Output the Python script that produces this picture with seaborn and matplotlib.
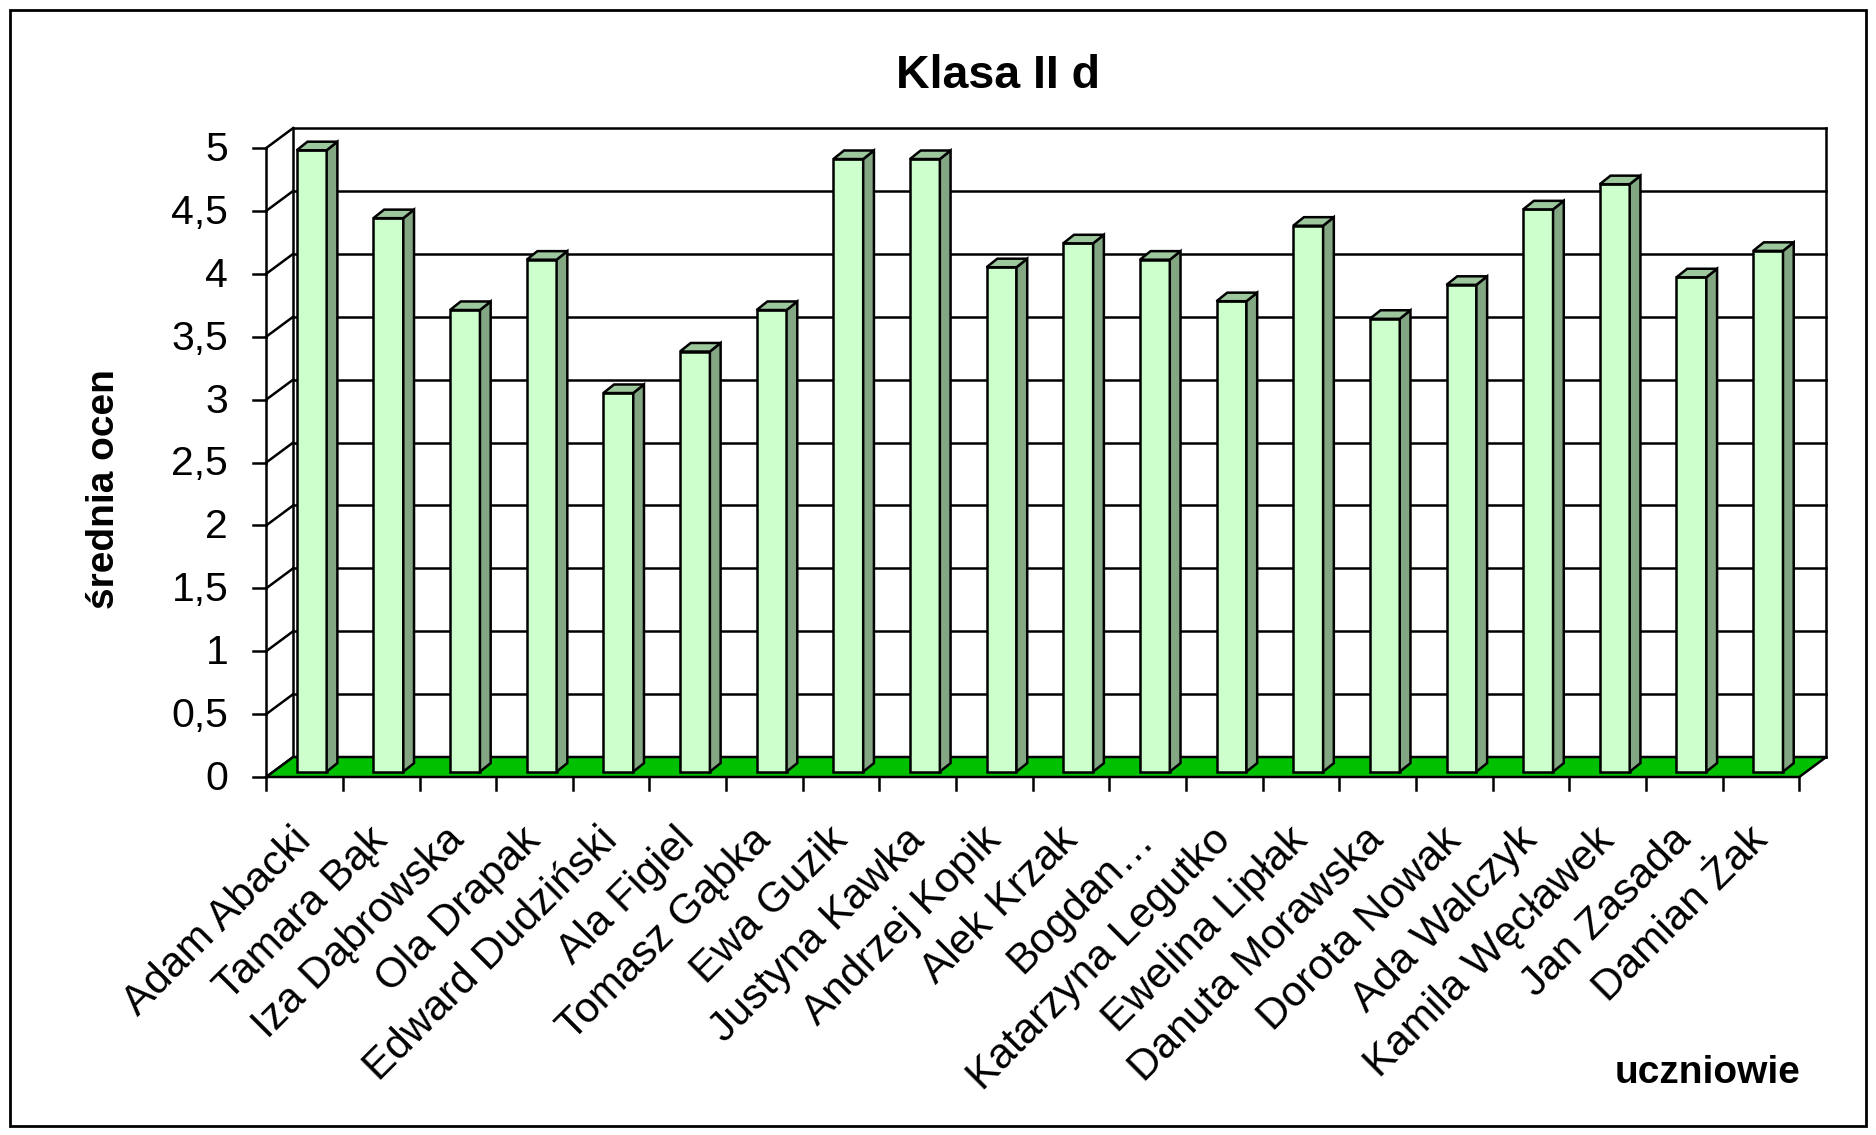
import numpy as np
import pandas as pd
import matplotlib
matplotlib.use("Agg")
import matplotlib.pyplot as plt
import seaborn as sns
from matplotlib.patches import Polygon, Rectangle

# ---- data -------------------------------------------------------------
students = [
    "Adam Abacki", "Tamara Bąk", "Iza Dąbrowska", "Ola Drapak",
    "Edward Dudziński", "Ala Figiel", "Tomasz Gąbka", "Ewa Guzik",
    "Justyna Kawka", "Andrzej Kopik", "Alek Krzak", "Bogdan…",
    "Katarzyna Legutko", "Ewelina Lipłak", "Danuta Morawska",
    "Dorota Nowak", "Ada Walczyk", "Kamila Węcławek", "Jan Zasada",
    "Damian Żak",
]
averages = [
    4.94, 4.40, 3.67, 4.07, 3.01, 3.34, 3.67, 4.87, 4.87, 4.01,
    4.20, 4.07, 3.74, 4.34, 3.60, 3.87, 4.47, 4.67, 3.93, 4.14,
]
y_ticks = [0, 0.5, 1, 1.5, 2, 2.5, 3, 3.5, 4, 4.5, 5]
y_tick_labels = ["0", "0,5", "1", "1,5", "2", "2,5", "3", "3,5", "4", "4,5", "5"]
chart_title = "Klasa II d"
y_title = "średnia ocen"
x_title = "uczniowie"

# ---- style ------------------------------------------------------------
sns.set_theme(style="white")
plt.rcParams["font.family"] = ["Liberation Sans", "DejaVu Sans"]

FRONT = "#CCFFCC"
SIDE = "#83A783"
TOP = "#9DC89D"
FLOOR = "#00C000"
INK = "black"
LW = 1.8

W, H = 1876, 1135
fig = plt.figure(figsize=(W / 100, H / 100), dpi=100)
fig.patch.set_facecolor("white")
ax = fig.add_axes([0, 0, 1, 1])

df = pd.DataFrame({"uczeń": students, "średnia": averages})
sns.barplot(data=df, x="uczeń", y="średnia", width=0.39, color=FRONT,
            saturation=1, edgecolor=INK, linewidth=LW, ax=ax, zorder=5)

# scale: one category = 76.65 px, one grade unit = 125.8 px
CAT_PX, VAL_PX = 76.65, 125.8
X0_PX, Y0_PX = 311.7, 771.7
ax.set_xlim(-X0_PX / CAT_PX, (W - X0_PX) / CAT_PX)
ax.set_ylim((Y0_PX - H) / VAL_PX, Y0_PX / VAL_PX)
ax.set_axis_off()

# oblique projection: depth t runs from 0 (front) to 1 (back wall);
# the bar faces stand at depth T0
DX, DY, T0 = 27 / CAT_PX, 20 / VAL_PX, 0.265
BAR_DX, BAR_DY = 0.14, 0.068
n = len(students)
lo, hi = -0.5, n - 0.5
vmax = y_ticks[-1]


def pt(x, v, t):
    return (x + (t - T0) * DX, v + (t - T0) * DY)


def seg(p, q, lw=LW, z=2):
    ax.plot([p[0], q[0]], [p[1], q[1]], color=INK, lw=lw, zorder=z,
            solid_capstyle="projecting", clip_on=False)


# back wall with its gridlines
ax.add_patch(Polygon([pt(lo, 0, 1), pt(hi, 0, 1), pt(hi, vmax, 1), pt(lo, vmax, 1)],
                     closed=True, facecolor="white", edgecolor="none", zorder=1))
for v in y_ticks:
    seg(pt(lo, v, 1), pt(hi, v, 1))
    seg(pt(lo, v, 0), pt(lo, v, 1))
seg(pt(lo, 0, 1), pt(lo, vmax, 1))
seg(pt(hi, 0, 1), pt(hi, vmax, 1))
seg(pt(lo, 0, 0), pt(lo, vmax, 0), z=3)

# floor
ax.add_patch(Polygon([pt(lo, 0, 0), pt(hi, 0, 0), pt(hi, 0, 1), pt(lo, 0, 1)],
                     closed=True, facecolor=FLOOR, edgecolor=INK, lw=LW, zorder=3))

# side and top faces of every bar
for bar in ax.patches:
    if not isinstance(bar, Rectangle) or bar.get_height() <= 0:
        continue
    x0 = bar.get_x()
    x1 = x0 + bar.get_width()
    v = bar.get_height()
    ax.add_patch(Polygon([(x1, 0), (x1 + BAR_DX, BAR_DY), (x1 + BAR_DX, v + BAR_DY), (x1, v)],
                         closed=True, facecolor=SIDE, edgecolor=INK, lw=LW, zorder=5))
    ax.add_patch(Polygon([(x0, v), (x1, v), (x1 + BAR_DX, v + BAR_DY), (x0 + BAR_DX, v + BAR_DY)],
                         closed=True, facecolor=TOP, edgecolor=INK, lw=LW, zorder=5))

# value axis ticks and labels
tick_x = 13 / CAT_PX
for v, lab in zip(y_ticks, y_tick_labels):
    x, y = pt(lo, v, 0)
    seg((x - tick_x, y), (x, y), z=3)
    ax.text(x - 38 / CAT_PX, y - 2 / VAL_PX, lab, ha="right", va="center",
            fontsize=29.5, color=INK)

# category ticks and rotated names
tick_y = 13 / VAL_PX
for k in range(n + 1):
    x, y = pt(lo + k, 0, 0)
    seg((x, y), (x, y - tick_y), z=3)
for i, name in enumerate(students):
    ax.text(i + 0.095, (Y0_PX - 820) / VAL_PX, name, rotation=45,
            ha="right", va="top", fontsize=30.5, color=INK)

# titles
fig.text(998 / W, 1 - 88 / H, chart_title, ha="center", va="baseline",
         fontsize=33.5, fontweight="bold", color=INK)
fig.text(104 / W, 1 - 489 / H, y_title, ha="center", va="center", rotation=90,
         fontsize=28, fontweight="bold", color=INK)
fig.text(1708 / W, 1 - 1083 / H, x_title, ha="center", va="baseline",
         fontsize=28, fontweight="bold", color=INK)

# chart frame
fig.patches.append(Rectangle((10 / W, 1 - 1126 / H), 1856 / W, 1116 / H,
                             transform=fig.transFigure, fill=False,
                             edgecolor=INK, lw=2, zorder=10))

fig.savefig("out.png", dpi=100, facecolor="white")
